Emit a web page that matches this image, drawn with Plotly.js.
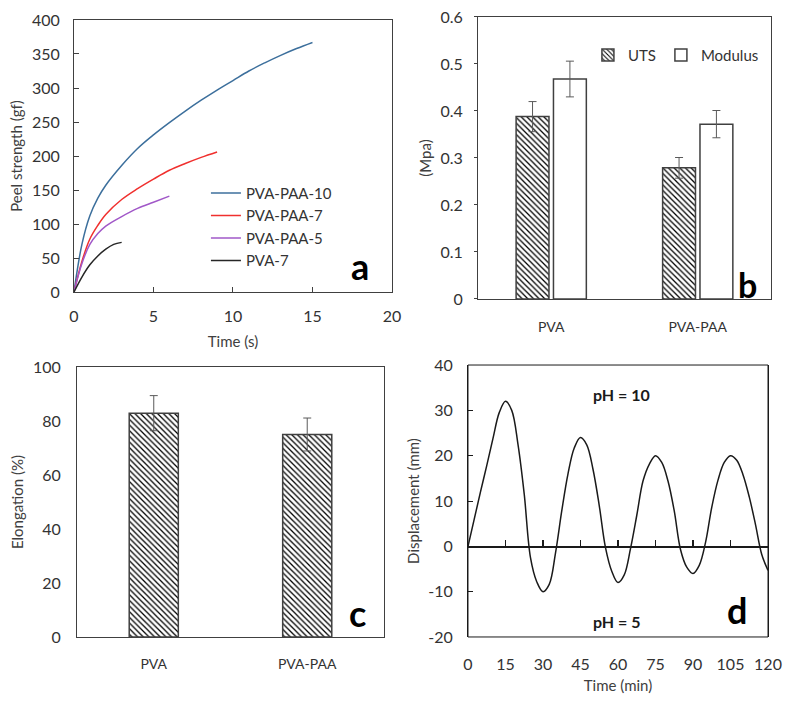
<!DOCTYPE html>
<html>
<head>
<meta charset="utf-8">
<script src="https://cdn.plot.ly/plotly-3.0.1.min.js"></script>
<style>html,body{margin:0;padding:0;background:#fff;}#chart{width:786px;height:704px;}</style>
</head>
<body>
<div id="chart"></div>
<script>
// ---- Panel a: peel strength vs time ----
const timeA10 = [0, 0.5, 1, 1.5, 2, 3, 4, 5, 6, 7, 8, 9, 10, 11, 12, 13, 14, 15];
const peelA10 = [0, 70, 112, 138, 157, 186, 211, 231, 249, 266, 282, 297, 311, 325, 337, 348, 358, 367];
const timeA7 = [0, 0.5, 1, 1.5, 2, 3, 4, 5, 6, 7, 8, 9];
const peelA7 = [0, 45, 78, 98, 114, 136, 152, 166, 179, 189, 198, 206];
const timeA5 = [0, 0.5, 1, 1.5, 2, 3, 4, 5, 6];
const peelA5 = [0, 42, 70, 86, 97, 111, 123, 132, 141];
const timeP7 = [0, 0.5, 1, 1.5, 2, 2.5, 3];
const peelP7 = [0, 22, 40, 53, 63, 70, 73];
const namesA = ['PVA-PAA-10', 'PVA-PAA-7', 'PVA-PAA-5', 'PVA-7'];

// ---- Panel b: UTS & Modulus ----
const categoriesB = ['PVA', 'PVA-PAA'];
const uts = [0.388, 0.279];
const utsErr = [0.032, 0.022];
const modulus = [0.468, 0.372];
const modulusErr = [0.038, 0.029];

// ---- Panel c: elongation ----
const categoriesC = ['PVA', 'PVA-PAA'];
const elongation = [82.9, 75.0];
const elongationErr = [6.5, 6.1];

// ---- Panel d: displacement vs time ----
const timeD = [0, 2.5, 5, 7.5, 10, 12.5, 15, 17.5, 20, 22.5, 25, 27.5, 30, 32.5, 35, 37.5, 40, 42.5, 45, 47.5, 50, 52.5, 55, 57.5, 60, 62.5, 65, 67.5, 70, 72.5, 75, 77.5, 80, 82.5, 85, 87.5, 90, 92.5, 95, 97.5, 100, 102.5, 105, 107.5, 110, 112.5, 115, 117.5, 120];
const dispD = [0, 6, 12, 17.8, 23.8, 29.5, 32, 30, 22.5, 11.5, -2.5, -7.8, -10, -8.4, -1.5, 7.8, 16, 21.7, 24, 22.4, 17, 9, -0.3, -5.5, -8, -6.3, -0.5, 6.8, 14.4, 18.1, 20, 18.5, 14.4, 7.8, -0.7, -4.6, -6, -4.2, 0.8, 8.6, 14.6, 18.5, 20, 19, 15.8, 10.9, 4.8, -1.8, -5.3];
const dTickVals = [-20, -10, 0, 10, 20, 30, 40];
const dTickText = ['-20', '-10', '0', '10', '20', '30', '40'];
const dXTicks = [0, 15, 30, 45, 60, 75, 90, 105, 120];

const FONT = 'Lato, "Open Sans", sans-serif';
const TXT = '#333333';
const LINE = '#404040';
const colorsA = ['#3C6F9C', '#F0302E', '#A158C8', '#262626'];

const hatch = {shape: '\\', fgcolor: '#000000', bgcolor: '#ffffff', size: 4, solidity: 0.32};

const traces = [];
const tA = [timeA10, timeA7, timeA5, timeP7];
const pA = [peelA10, peelA7, peelA5, peelP7];
for (let i = 0; i < 4; i++) {
  traces.push({
    type: 'scatter', mode: 'lines', x: tA[i], y: pA[i], name: namesA[i],
    line: {color: colorsA[i], width: 1.5, shape: 'spline', smoothing: 1},
    xaxis: 'x', yaxis: 'y', legend: 'legend'
  });
}
traces.push({
  type: 'bar', x: categoriesB, y: uts, name: 'UTS', xaxis: 'x2', yaxis: 'y2', legend: 'legend2',
  marker: {color: '#ffffff', pattern: hatch, line: {color: LINE, width: 1.5}},
  error_y: {type: 'data', array: utsErr, visible: true, color: '#5a5a5a', thickness: 1, width: 4}
});
traces.push({
  type: 'bar', x: categoriesB, y: modulus, name: 'Modulus', xaxis: 'x2', yaxis: 'y2', legend: 'legend2',
  marker: {color: '#ffffff', line: {color: LINE, width: 1.5}},
  error_y: {type: 'data', array: modulusErr, visible: true, color: '#5a5a5a', thickness: 1, width: 4}
});
traces.push({
  type: 'bar', x: categoriesC, y: elongation, name: 'Elongation', xaxis: 'x3', yaxis: 'y3', showlegend: false,
  width: 0.32,
  marker: {color: '#ffffff', pattern: hatch, line: {color: LINE, width: 1.5}},
  error_y: {type: 'data', array: elongationErr, visible: true, color: '#5a5a5a', thickness: 1, width: 4}
});
traces.push({
  type: 'scatter', mode: 'lines', x: timeD, y: dispD, name: 'Displacement', xaxis: 'x4', yaxis: 'y4', showlegend: false,
  line: {color: '#1a1a1a', width: 1.5, shape: 'spline', smoothing: 1}
});

const tickFont = {family: FONT, size: 16, color: TXT};
const titleFont = {family: FONT, size: 15, color: '#404040'};
function ax(extra) {
  return Object.assign({
    showline: true, mirror: true, linecolor: LINE, linewidth: 1, showgrid: false, zeroline: false,
    tickfont: tickFont, ticks: '', automargin: false
  }, extra);
}

const domD = [0.0952, 0.4815];
const zeroPos = domD[0] + (domD[1] - domD[0]) * (0 - (-20)) / (40 - (-20));

const layout = {
  width: 786, height: 704,
  margin: {l: 0, r: 0, t: 0, b: 0},
  paper_bgcolor: '#ffffff', plot_bgcolor: '#ffffff',
  font: {family: FONT, color: TXT},
  barmode: 'group',
  bargap: 0.49, bargroupgap: 0.12,
  xaxis: ax({domain: [0.0941, 0.4987], anchor: 'y', range: [0, 20], dtick: 5, ticks: 'inside', ticklen: 5, tickcolor: LINE,
    ticklabelstandoff: 10, title: {text: 'Time (s)', font: titleFont, standoff: 12}}),
  yaxis: ax({domain: [0.5852, 0.9716], anchor: 'x', range: [0, 400], dtick: 50, ticks: 'inside', ticklen: 5, tickcolor: LINE,
    ticklabelstandoff: 10, title: {text: 'Peel strength (gf)', font: titleFont, standoff: 5}}),
  xaxis2: ax({domain: [0.6081, 0.9809], anchor: 'y2', type: 'category', ticklabelstandoff: 15, tickfont: {family: FONT, size: 14, color: TXT}}),
  yaxis2: ax({domain: [0.5753, 0.9759], anchor: 'x2', range: [0, 0.6], dtick: 0.1, ticks: 'outside', ticklen: 3, tickcolor: LINE,
    ticklabelstandoff: 8, title: {text: '(Mpa)', font: titleFont, standoff: 5}}),
  xaxis3: ax({domain: [0.0980, 0.4885], anchor: 'y3', type: 'category', ticklabelstandoff: 14, tickfont: {family: FONT, size: 14, color: TXT}}),
  yaxis3: ax({domain: [0.0952, 0.4787], anchor: 'x3', range: [0, 100], dtick: 20, ticklabelstandoff: 12,
    title: {text: 'Elongation (%)', font: titleFont, standoff: 5}}),
  // x axis crossing at y = 0, with upward ticks; labels pushed down below the frame
  xaxis4: {domain: [0.5954, 0.9771], anchor: 'free', position: zeroPos, side: 'bottom', range: [0, 120],
    tickmode: 'array', tickvals: dXTicks, ticks: 'inside', ticklen: 6, tickwidth: 1.5, tickcolor: '#1a1a1a',
    showticklabels: true, tickfont: tickFont, ticklabelstandoff: 103,
    showline: true, linecolor: '#1a1a1a', linewidth: 1.5, showgrid: false, zeroline: false, automargin: false,
    title: {text: 'Time (min)', font: titleFont, standoff: 8}},
  yaxis4: ax({domain: domD, anchor: 'x4', range: [-20, 40], tickmode: 'array', tickvals: dTickVals, ticktext: dTickText,
    ticks: 'inside', ticklen: 5, tickcolor: '#1a1a1a', linecolor: '#1a1a1a', ticklabelstandoff: 11,
    title: {text: 'Displacement (mm)', font: titleFont, standoff: 5}}),
  shapes: [
    {type: 'rect', xref: 'x4 domain', yref: 'y4 domain', x0: 0, x1: 1, y0: 0, y1: 1, line: {color: '#1a1a1a', width: 1}, fillcolor: 'rgba(0,0,0,0)', layer: 'above'}
  ],
  legend: {x: 0.262, y: 0.749, xanchor: 'left', yanchor: 'top', bgcolor: 'rgba(0,0,0,0)', borderwidth: 0,
    font: {family: FONT, size: 15, color: TXT}, tracegroupgap: 0, itemwidth: 30},
  legend2: {x: 0.748, y: 0.945, xanchor: 'left', yanchor: 'top', orientation: 'h', bgcolor: 'rgba(0,0,0,0)', borderwidth: 0,
    font: {family: FONT, size: 15, color: TXT}, itemwidth: 30},
  annotations: [
    {xref: 'x domain', yref: 'y domain', x: 0.934, y: 0.008, text: '<b>a</b>', showarrow: false, font: {family: FONT, size: 36, color: '#000'}},
    {xref: 'x2 domain', yref: 'y2 domain', x: 0.959, y: -0.03, text: '<b>b</b>', showarrow: false, font: {family: FONT, size: 34, color: '#000'}},
    {xref: 'x3 domain', yref: 'y3 domain', x: 0.948, y: 0.0, text: '<b>c</b>', showarrow: false, font: {family: FONT, size: 36, color: '#000'}},
    {xref: 'x4 domain', yref: 'y4 domain', x: 0.937, y: 0.01, text: '<b>d</b>', showarrow: false, font: {family: FONT, size: 36, color: '#000'}},
    {xref: 'x4', yref: 'y4', x: 61.5, y: 33.6, text: '<b>pH = 10</b>', showarrow: false, font: {family: FONT, size: 16, color: '#1a1a1a'}},
    {xref: 'x4', yref: 'y4', x: 59.5, y: -16.6, text: '<b>pH = 5</b>', showarrow: false, font: {family: FONT, size: 16, color: '#1a1a1a'}}
  ]
};

Plotly.newPlot('chart', traces, layout, {displayModeBar: false, staticPlot: true});
</script>
</body>
</html>
